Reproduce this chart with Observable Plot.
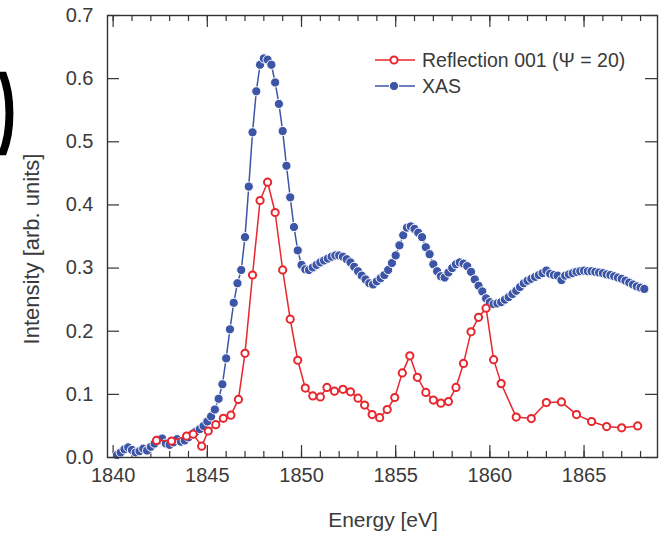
<!DOCTYPE html>
<html>
<head>
<meta charset="utf-8">
<script src="https://cdn.jsdelivr.net/npm/d3@7"></script>
<script src="https://cdn.jsdelivr.net/npm/@observablehq/plot@0.6"></script>
<style>
  html, body { margin: 0; padding: 0; background: #fff; }
  #wrap { position: relative; width: 667px; height: 535px; overflow: hidden; font-family: "Liberation Sans", Arial, sans-serif; color: #3a3a3a; }
  #chart { position: absolute; left: 0; top: 0; }
  .abs { position: absolute; white-space: nowrap; }
</style>
</head>
<body>
<div id="wrap">
  <div id="chart"></div>
  <div class="abs" id="panel" style="left:-1px; top:62px; font: bold 88px/88px 'Liberation Sans', Arial, sans-serif; color:#000; -webkit-text-stroke: 2.5px #000; transform: scaleX(0.55); transform-origin: left top;">)</div>
  <div class="abs" id="ytitle" style="left:32px; top:249px; transform: translate(-50%,-50%) rotate(-90deg); font-size:22px;">Intensity [arb. units]</div>
  <div class="abs" id="xtitle" style="left:383px; top:520px; transform: translate(-50%,-50%); font-size:21px;">Energy [eV]</div>
  <div class="abs" id="legend" style="left:375px; top:47px; font-size:19.5px;"></div>
</div>
<script>
// ---- data ----
const energyRefl = [1842.3, 1843.1, 1843.9, 1844.25, 1844.7, 1845.05, 1845.45, 1845.85, 1846.25, 1846.65,
  1847.0, 1847.4, 1847.8, 1848.2, 1848.6, 1849.0, 1849.4, 1849.8, 1850.2, 1850.6,
  1851.0, 1851.35, 1851.75, 1852.2, 1852.6, 1853.0, 1853.35, 1853.75, 1854.15, 1854.55,
  1854.95, 1855.35, 1855.75, 1856.15, 1856.6, 1857.0, 1857.4, 1857.8, 1858.2, 1858.6,
  1859.0, 1859.4, 1859.8, 1860.2, 1860.6, 1861.4, 1862.2, 1863.0, 1863.8, 1864.6,
  1865.4, 1866.2, 1867.0, 1867.85];
const reflection = [0.027, 0.026, 0.034, 0.037, 0.018, 0.042, 0.052, 0.062, 0.067, 0.092,
  0.165, 0.289, 0.407, 0.436, 0.388, 0.297, 0.219, 0.154, 0.110, 0.0975,
  0.096, 0.111, 0.105, 0.108, 0.104, 0.094, 0.083, 0.068, 0.063, 0.076,
  0.095, 0.134, 0.161, 0.127, 0.103, 0.091, 0.086, 0.0885, 0.111, 0.149,
  0.199, 0.222, 0.2365, 0.155, 0.117, 0.064, 0.0616, 0.087, 0.088, 0.068,
  0.057, 0.049, 0.047, 0.050];

const energyXAS = [1840.2, 1840.4, 1840.6, 1840.8, 1841.0, 1841.2, 1841.4, 1841.6, 1841.8, 1842.0,
  1842.2, 1842.4, 1842.6, 1842.8, 1843.0, 1843.2, 1843.4, 1843.6, 1843.8, 1844.0,
  1844.2, 1844.4, 1844.6, 1844.8, 1845.0, 1845.2, 1845.4, 1845.6, 1845.8, 1846.0,
  1846.2, 1846.4, 1846.6, 1846.8, 1847.0, 1847.2, 1847.4, 1847.6, 1847.8, 1848.0,
  1848.2, 1848.4, 1848.6, 1848.8, 1849.0, 1849.2, 1849.4, 1849.6, 1849.8, 1850.0,
  1850.2, 1850.4, 1850.6, 1850.8, 1851.0, 1851.2, 1851.4, 1851.6, 1851.8, 1852.0,
  1852.2, 1852.4, 1852.6, 1852.8, 1853.0, 1853.2, 1853.4, 1853.6, 1853.8, 1854.0,
  1854.2, 1854.4, 1854.6, 1854.8, 1855.0, 1855.2, 1855.4, 1855.6, 1855.8, 1856.0,
  1856.2, 1856.4, 1856.6, 1856.8, 1857.0, 1857.2, 1857.4, 1857.6, 1857.8, 1858.0,
  1858.2, 1858.4, 1858.6, 1858.8, 1859.0, 1859.2, 1859.4, 1859.6, 1859.8, 1860.0,
  1860.2, 1860.4, 1860.6, 1860.8, 1861.0, 1861.2, 1861.4, 1861.6, 1861.8, 1862.0,
  1862.2, 1862.4, 1862.6, 1862.8, 1863.0, 1863.2, 1863.4, 1863.6, 1863.8, 1864.0,
  1864.2, 1864.4, 1864.6, 1864.8, 1865.0, 1865.2, 1865.4, 1865.6, 1865.8, 1866.0,
  1866.2, 1866.4, 1866.6, 1866.8, 1867.0, 1867.2, 1867.4, 1867.6, 1867.8, 1868.0,
  1868.2];
const xas = [0.004, 0.008, 0.013, 0.016, 0.012, 0.008, 0.010, 0.014, 0.011, 0.017,
  0.022, 0.027, 0.030, 0.022, 0.020, 0.024, 0.029, 0.025, 0.027, 0.032,
  0.037, 0.041, 0.045, 0.050, 0.057, 0.065, 0.076, 0.093, 0.116, 0.157,
  0.203, 0.245, 0.276, 0.297, 0.349, 0.429, 0.515, 0.580, 0.622, 0.632,
  0.630, 0.622, 0.594, 0.560, 0.517, 0.462, 0.412, 0.365, 0.328, 0.305,
  0.298, 0.297, 0.301, 0.305, 0.309, 0.312, 0.315, 0.318, 0.320, 0.320,
  0.318, 0.314, 0.309, 0.302, 0.295, 0.288, 0.282, 0.276, 0.274, 0.279,
  0.284, 0.289, 0.297, 0.308, 0.320, 0.336, 0.352, 0.364, 0.366, 0.362,
  0.356, 0.349, 0.333, 0.322, 0.306, 0.295, 0.287, 0.285, 0.293, 0.300,
  0.306, 0.309, 0.307, 0.303, 0.294, 0.282, 0.272, 0.263, 0.252, 0.246,
  0.243, 0.244, 0.246, 0.250, 0.254, 0.259, 0.264, 0.270, 0.276, 0.280,
  0.283, 0.286, 0.289, 0.292, 0.296, 0.291, 0.289, 0.288, 0.281, 0.288,
  0.290, 0.292, 0.294, 0.295, 0.296, 0.295, 0.295, 0.294, 0.293, 0.292,
  0.290, 0.289, 0.287, 0.285, 0.283, 0.280, 0.277, 0.274, 0.271, 0.269,
  0.267];

const xMajorTicks = [1840, 1845, 1850, 1855, 1860, 1865];
const xMinorTicks = [1840, 1841, 1842, 1843, 1844, 1845, 1846, 1847, 1848, 1849, 1850, 1851, 1852, 1853, 1854,
  1855, 1856, 1857, 1858, 1859, 1860, 1861, 1862, 1863, 1864, 1865, 1866, 1867, 1868];
const yTicks = [0, 0.1, 0.2, 0.3, 0.4, 0.5, 0.6, 0.7];
const seriesNames = ["Reflection 001 (\u03A8 = 20)", "XAS"];

// ---- build ----
const RED = "#e8262d", BLUE = "#3d55a6", AXIS = "#333";
const W = 667, H = 535, mL = 107, mR = 10, mT = 15, mB = 78;
const plotW = W - mL - mR, plotH = H - mT - mB;

const reflData = energyRefl.map((e, i) => ({e, v: reflection[i]}));
const xasData = energyXAS.map((e, i) => ({e, v: xas[i]}));

const chart = Plot.plot({
  width: W, height: H,
  marginLeft: mL, marginRight: mR, marginTop: mT, marginBottom: mB,
  style: {fontFamily: "'Liberation Sans', Arial, sans-serif", fontSize: "20px", color: "#3a3a3a", background: "transparent"},
  x: {domain: [1839.7, 1868.9]},
  y: {domain: [0, 0.7]},
  marks: [
    Plot.tickX(xMinorTicks, {x: d => d, insetTop: plotH - 6, stroke: AXIS, strokeWidth: 1.2}),
    Plot.tickX(xMajorTicks, {x: d => d, insetTop: plotH - 12, stroke: AXIS, strokeWidth: 1.2}),
    Plot.tickX(xMinorTicks, {x: d => d, insetBottom: plotH - 6, stroke: AXIS, strokeWidth: 1.2}),
    Plot.tickX(xMajorTicks, {x: d => d, insetBottom: plotH - 12, stroke: AXIS, strokeWidth: 1.2}),
    Plot.tickY(yTicks, {y: d => d, insetRight: plotW - 12, stroke: AXIS, strokeWidth: 1.2}),
    Plot.tickY(yTicks, {y: d => d, insetLeft: plotW - 12, stroke: AXIS, strokeWidth: 1.2}),
    Plot.axisX(xMajorTicks, {tickSize: 0, tickPadding: 10, tickFormat: d => String(d), label: null}),
    Plot.axisY(yTicks, {tickSize: 0, tickPadding: 14, tickFormat: d => d.toFixed(1), label: null}),
    Plot.line(xasData, {x: "e", y: "v", stroke: BLUE, strokeWidth: 1.5}),
    Plot.dot(xasData, {x: "e", y: "v", r: 4.6, fill: BLUE, stroke: "white", strokeWidth: 1}),
    Plot.line(reflData, {x: "e", y: "v", stroke: RED, strokeWidth: 1.5}),
    Plot.dot(reflData, {x: "e", y: "v", r: 3.6, fill: "white", stroke: RED, strokeWidth: 2}),
    Plot.frame({stroke: AXIS, strokeWidth: 1.4})
  ]
});
document.getElementById("chart").appendChild(chart);

// legend
const legendItems = [
  {name: seriesNames[0], color: RED, open: true},
  {name: seriesNames[1], color: BLUE, open: false}
];
const leg = document.getElementById("legend");
leg.innerHTML = legendItems.map(it => `
  <div style="display:flex;align-items:center;height:26px;">
    <svg width="40" height="26" style="margin-right:7px">
      <line x1="0" x2="40" y1="13" y2="13" stroke="${it.color}" stroke-width="1.5"/>
      ${it.open
        ? `<circle cx="19" cy="13" r="3.6" fill="white" stroke="${it.color}" stroke-width="2"/>`
        : `<circle cx="19" cy="13" r="4.6" fill="${it.color}" stroke="white" stroke-width="1"/>`}
    </svg>
    <span>${it.name}</span>
  </div>`).join("");
</script>
</body>
</html>
